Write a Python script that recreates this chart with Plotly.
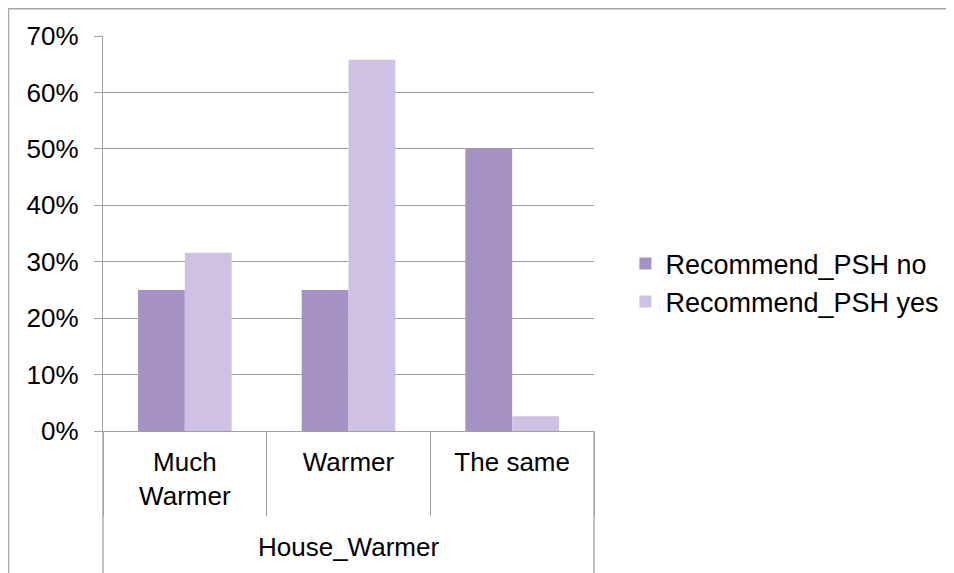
import plotly.graph_objects as go

group_label = "House_Warmer"
categories = ["Much<br>Warmer", "Warmer", "The same"]
series_names = ["Recommend_PSH no", "Recommend_PSH yes"]
values_no = [0.25, 0.25, 0.50]
values_yes = [0.316, 0.658, 0.026]
colors = ["#A691C5", "#CEC1E3"]

FONT = "Liberation Sans, Arial, sans-serif"
GRID = "#A0A0A0"
FS = 26

fig = go.Figure()
for name, vals, col in zip(series_names, [values_no, values_yes], colors):
    fig.add_trace(go.Bar(x=categories, y=vals, name=name,
                         marker=dict(color=col, line=dict(width=0))))
# empty helper trace so the divider axis (category boundaries) is drawn
fig.add_trace(go.Scatter(x=[], y=[], xaxis="x2", yaxis="y", showlegend=False,
                         hoverinfo="skip"))

fig.update_layout(
    width=946, height=565,
    margin=dict(l=95, r=360, t=28, b=142, autoexpand=False),
    paper_bgcolor="white", plot_bgcolor="white",
    font=dict(family=FONT, size=FS, color="#000000"),
    barmode="group", bargap=0.428, bargroupgap=0,
    showlegend=True,
    legend=dict(x=1.064, y=0.375, xanchor="left", yanchor="middle",
                font=dict(size=27), itemwidth=30, tracegroupgap=0,
                bgcolor="rgba(0,0,0,0)"),
    xaxis=dict(type="category", showline=True, linecolor=GRID, linewidth=1.3,
               ticks="", ticklabelstandoff=8, tickfont=dict(size=FS, family=FONT),
               range=[-0.5, 2.5]),
    xaxis2=dict(type="linear", overlaying="x", anchor="y", side="bottom",
                range=[-0.5, 2.5], autorange=False,
                tick0=-0.5, dtick=1, ticks="outside", ticklen=84,
                tickcolor=GRID, tickwidth=1.3, showticklabels=False,
                showgrid=False, zeroline=False, showline=False),
    yaxis=dict(range=[0, 0.7], dtick=0.1, tickformat=".0%",
               showgrid=True, gridcolor=GRID, gridwidth=1.3,
               showline=True, linecolor=GRID, linewidth=1.3,
               ticks="outside", ticklen=8, tickcolor=GRID, tickwidth=1.3,
               ticklabelstandoff=10, zeroline=False,
               tickfont=dict(size=FS, family=FONT)),
    shapes=[
        dict(type="rect", xref="paper", yref="paper",
             x0=-94.5 / 491, x1=1.8, y0=-0.6, y1=1 + 27.2 / 395,
             line=dict(color="#A6A6A6", width=1.5), fillcolor="rgba(0,0,0,0)", layer="below"),
        dict(type="line", xref="paper", yref="paper", x0=0, x1=0, y0=0, y1=-0.4,
             line=dict(color=GRID, width=1.3)),
        dict(type="line", xref="paper", yref="paper", x0=1, x1=1, y0=0, y1=-0.4,
             line=dict(color=GRID, width=1.3)),
    ],
    annotations=[dict(text=group_label, xref="paper", yref="paper", x=0.5, y=-0.294,
                      xanchor="center", yanchor="middle", showarrow=False,
                      font=dict(size=FS, family=FONT, color="#000000"))],
)

fig.write_html("out.html")
